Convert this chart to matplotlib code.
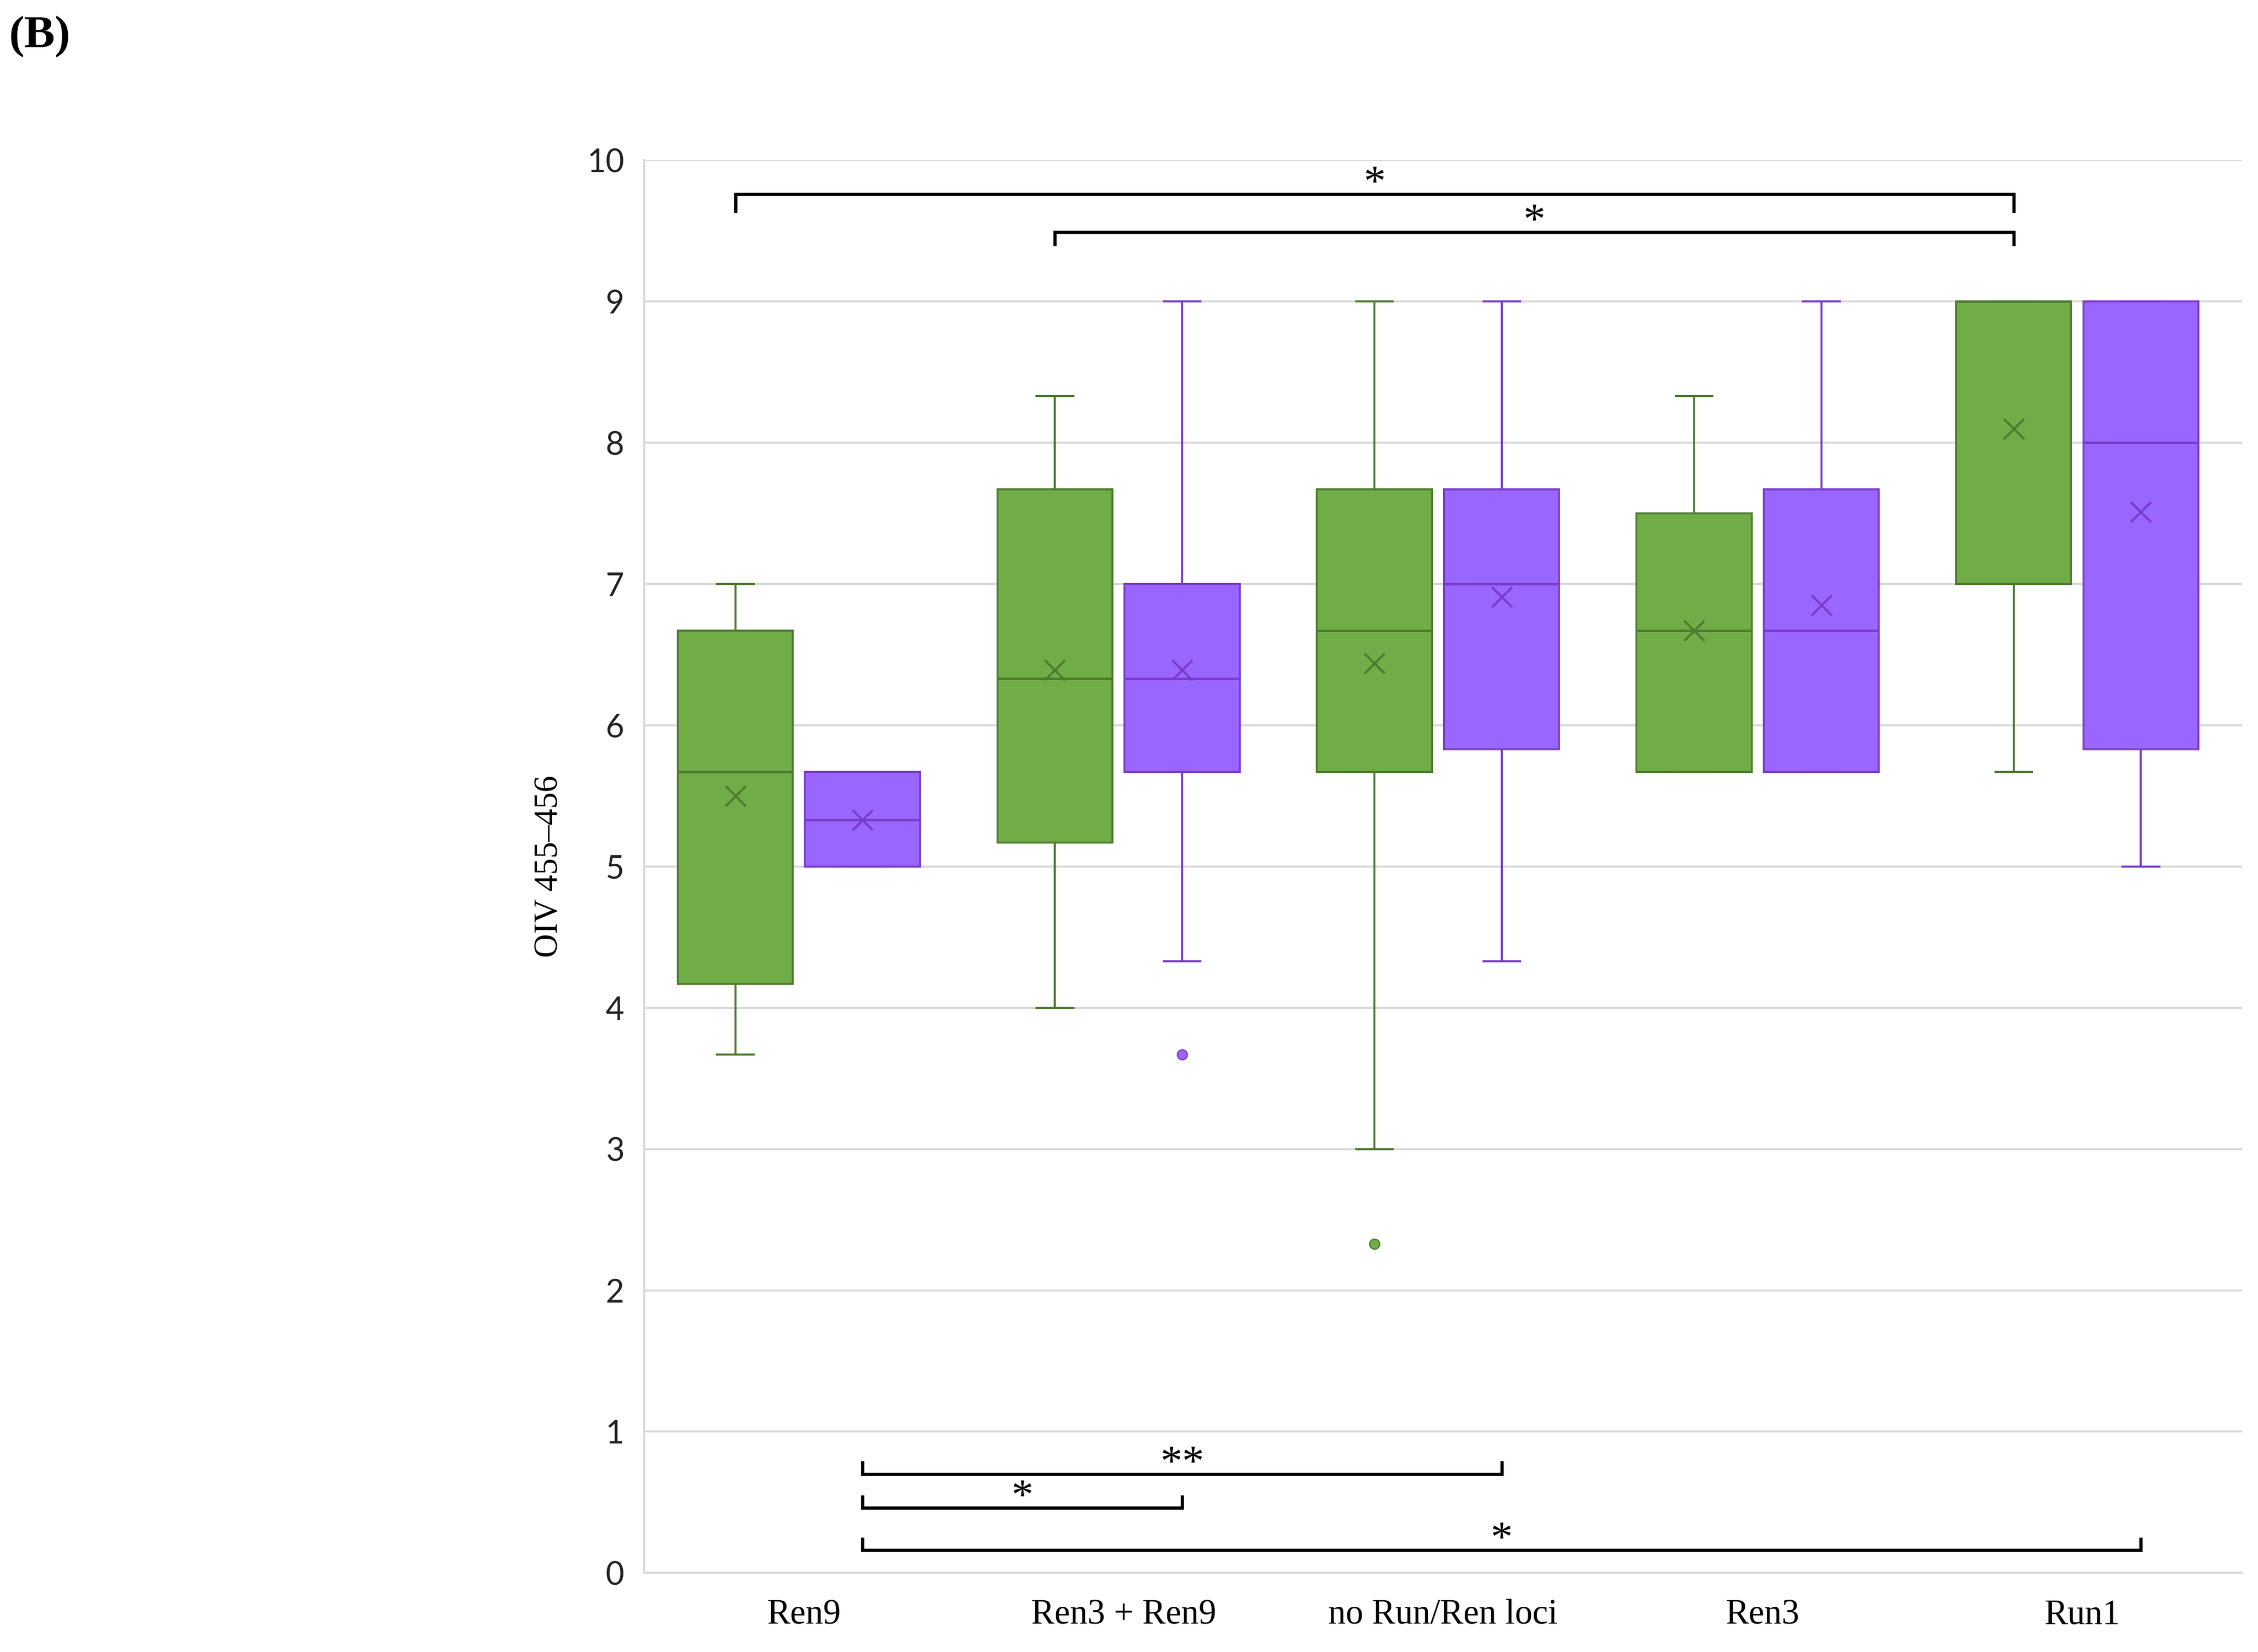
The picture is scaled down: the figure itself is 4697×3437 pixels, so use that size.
import matplotlib
matplotlib.use("Agg")
import matplotlib.pyplot as plt

# categories and box statistics
categories = ['Ren9', 'Ren3 + Ren9', 'no Run/Ren loci', 'Ren3', 'Run1']

# green series
g_whislo = [3.67, 4.0, 3.0, 5.67, 5.67]
g_q1     = [4.17, 5.17, 5.67, 5.67, 7.0]
g_med    = [5.67, 6.33, 6.67, 6.67, 9.0]
g_q3     = [6.67, 7.67, 7.67, 7.5, 9.0]
g_whishi = [7.0, 8.33, 9.0, 8.33, 9.0]
g_mean   = [5.5, 6.39, 6.44, 6.67, 8.1]
g_fliers = [[], [], [2.33], [], []]

# purple series
p_whislo = [5.0, 4.33, 4.33, 5.67, 5.0]
p_q1     = [5.0, 5.67, 5.83, 5.67, 5.83]
p_med    = [5.33, 6.33, 7.0, 6.67, 8.0]
p_q3     = [5.67, 7.0, 7.67, 7.67, 9.0]
p_whishi = [5.67, 9.0, 9.0, 9.0, 9.0]
p_mean   = [5.33, 6.39, 6.91, 6.85, 7.51]
p_fliers = [[], [3.67], [], [], []]

# significance brackets: (series, from category, series, to category, label, level, tick)
top_pairs = [('g', 0, 'g', 4, '*', 9.76, 0.12), ('g', 1, 'g', 4, '*', 9.49, 0.085)]
bottom_pairs = [('p', 0, 'p', 2, '**', 0.70, 0.08), ('p', 0, 'p', 1, '*', 0.46, 0.08),
                ('p', 0, 'p', 4, '*', 0.16, 0.08)]

green, green_edge = '#70AD47', '#4E7A31'
purple, purple_edge = '#9966FF', '#7A3CC8'

fig = plt.figure(figsize=(4697 / 300, 3437 / 300), dpi=300)
ax = fig.add_axes([0.2853, 0.0479, 0.7077, 0.8551])

g_pos = [i + 0.285 for i in range(len(categories))]
p_pos = [i + 0.683 for i in range(len(categories))]


def make_stats(lo, q1, med, q3, hi, mean, fl):
    return [dict(whislo=a, q1=b, med=c, q3=d, whishi=e, mean=f, fliers=g)
            for a, b, c, d, e, f, g in zip(lo, q1, med, q3, hi, mean, fl)]


def draw(stats, pos, fill, edge):
    ax.bxp(stats, positions=pos, widths=0.36, capwidths=0.115, patch_artist=True,
           showmeans=True, showfliers=True,
           boxprops=dict(facecolor=fill, edgecolor=edge, linewidth=1.0),
           medianprops=dict(color=edge, linewidth=1.2),
           whiskerprops=dict(color=edge, linewidth=1.0),
           capprops=dict(color=edge, linewidth=1.0),
           meanprops=dict(marker='x', markeredgecolor=edge, markersize=10,
                          markeredgewidth=1.1),
           flierprops=dict(marker='o', markerfacecolor=fill, markeredgecolor=edge,
                           markersize=5, markeredgewidth=0.6))


draw(make_stats(g_whislo, g_q1, g_med, g_q3, g_whishi, g_mean, g_fliers),
     g_pos, green, green_edge)
draw(make_stats(p_whislo, p_q1, p_med, p_q3, p_whishi, p_mean, p_fliers),
     p_pos, purple, purple_edge)

ax.set_xlim(0, 5)
ax.set_ylim(0, 10)
ax.set_yticks(range(0, 11))
ax.set_xticks([i + 0.5 for i in range(len(categories))])
ax.set_xticklabels(categories, fontfamily='Liberation Serif', fontsize=17.5)
ax.tick_params(axis='x', length=0, pad=13)
ax.tick_params(axis='y', length=0, pad=10, labelsize=16)
for lab in ax.get_yticklabels():
    lab.set_fontfamily('Lato')
    lab.set_color('#222222')

ax.grid(axis='y', color='#D9D9D9', linewidth=1.0)
ax.set_axisbelow(True)
for side in ['top', 'right']:
    ax.spines[side].set_visible(False)
for side in ['left', 'bottom']:
    ax.spines[side].set_color('#D9D9D9')
    ax.spines[side].set_linewidth(1.0)

ax.set_ylabel('OIV 455–456', fontfamily='Liberation Serif', fontsize=16.5)
ax.yaxis.set_label_coords(-0.050, 0.5)


def xpos(s, i):
    return g_pos[i] if s == 'g' else p_pos[i]


for s1, i1, s2, i2, lab, y, t in top_pairs:
    x1, x2 = xpos(s1, i1), xpos(s2, i2)
    ax.plot([x1, x1, x2, x2], [y - t, y, y, y - t], color='black',
            linewidth=1.6, clip_on=False, solid_joinstyle='miter')
    ax.text((x1 + x2) / 2, y - 0.01, lab, ha='center', va='baseline',
            fontsize=22, fontfamily='Liberation Serif')

for s1, i1, s2, i2, lab, y, t in bottom_pairs:
    x1, x2 = xpos(s1, i1), xpos(s2, i2)
    ax.plot([x1, x1, x2, x2], [y + t, y, y, y + t], color='black',
            linewidth=1.6, clip_on=False, solid_joinstyle='miter')
    ax.text((x1 + x2) / 2, y - 0.01, lab, ha='center', va='baseline',
            fontsize=22, fontfamily='Liberation Serif')

fig.text(0.004, 0.978, '(B)', fontsize=23, fontweight='bold',
         fontfamily='Liberation Serif', va='center', ha='left')

fig.savefig('out.png', dpi=300)
